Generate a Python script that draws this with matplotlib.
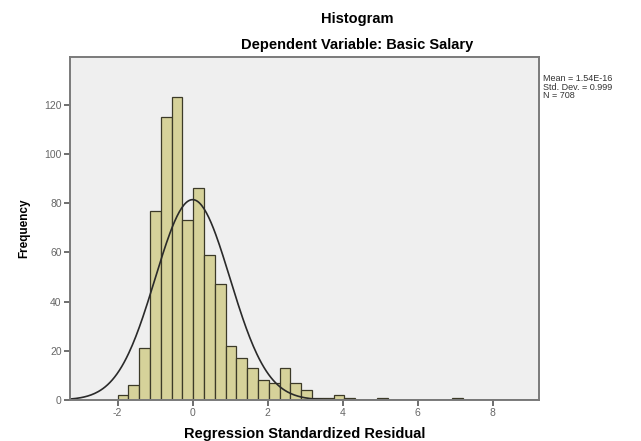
import numpy as np
import matplotlib.pyplot as plt

# histogram of regression standardized residuals (SPSS style)
bin_start = -2.0
bin_width = 0.288
counts = [2, 6, 21, 77, 115, 123, 73, 86, 59, 47, 22, 17, 13, 8, 7, 13,
          7, 4, 1, 1, 2, 1, 0, 0, 1, 0, 0, 0, 0, 0, 0, 1]
mean = 1.54e-16
std_dev = 0.999
n_obs = 708

x_ticks = [-2, 0, 2, 4, 6, 8]
y_ticks = [0, 20, 40, 60, 80, 100, 120]

plt.rcParams['font.family'] = ['Liberation Sans', 'DejaVu Sans']
plt.rcParams['axes.unicode_minus'] = False
fig = plt.figure(figsize=(6.41, 4.41), dpi=100)
ax = fig.add_axes([70 / 641, 41 / 441, 469 / 641, 343 / 441])
ax.set_facecolor('#efefef')

edges = bin_start + bin_width * np.arange(len(counts))
ax.bar(edges, counts, width=bin_width, align='edge',
       color='#d6d29a', edgecolor='#3c3a28', linewidth=0.9)

ax.set_xlim(-3.27, 9.24)
ax.set_ylim(0, 139.4)

# normal curve scaled to the histogram
xs = np.linspace(-3.27, 9.24, 400)
ys = n_obs * bin_width / (std_dev * np.sqrt(2 * np.pi)) * np.exp(-0.5 * ((xs - mean) / std_dev) ** 2)
ax.plot(xs, ys, color='#2a2a2a', linewidth=1.2)

ax.set_xticks(x_ticks)
ax.set_yticks(y_ticks)
ax.tick_params(axis='both', colors='#555555', labelsize=7.5, length=4, width=1.2,
               labelcolor='#666666', pad=2)
for s in ax.spines.values():
    s.set_color('#7a7a7a')
    s.set_linewidth(1.4)

ax.set_xlabel('Regression Standardized Residual', fontsize=10.5, fontweight='bold', labelpad=6)
ax.set_ylabel('Frequency', fontsize=8.5, fontweight='bold', labelpad=10)

fig.text(357 / 641, 1 - 19 / 441, 'Histogram', ha='center', va='center',
         fontsize=10.5, fontweight='bold')
fig.text(357 / 641, 1 - 45 / 441, 'Dependent Variable: Basic Salary', ha='center', va='center',
         fontsize=10.5, fontweight='bold')
fig.text(543 / 641, 1 - 87 / 441,
         f'Mean = 1.54E-16\nStd. Dev. = {std_dev}\nN = {n_obs}',
         ha='left', va='center', fontsize=6.5, color='#333333', linespacing=0.95)

plt.savefig('out.png', dpi=100)
plt.close()
